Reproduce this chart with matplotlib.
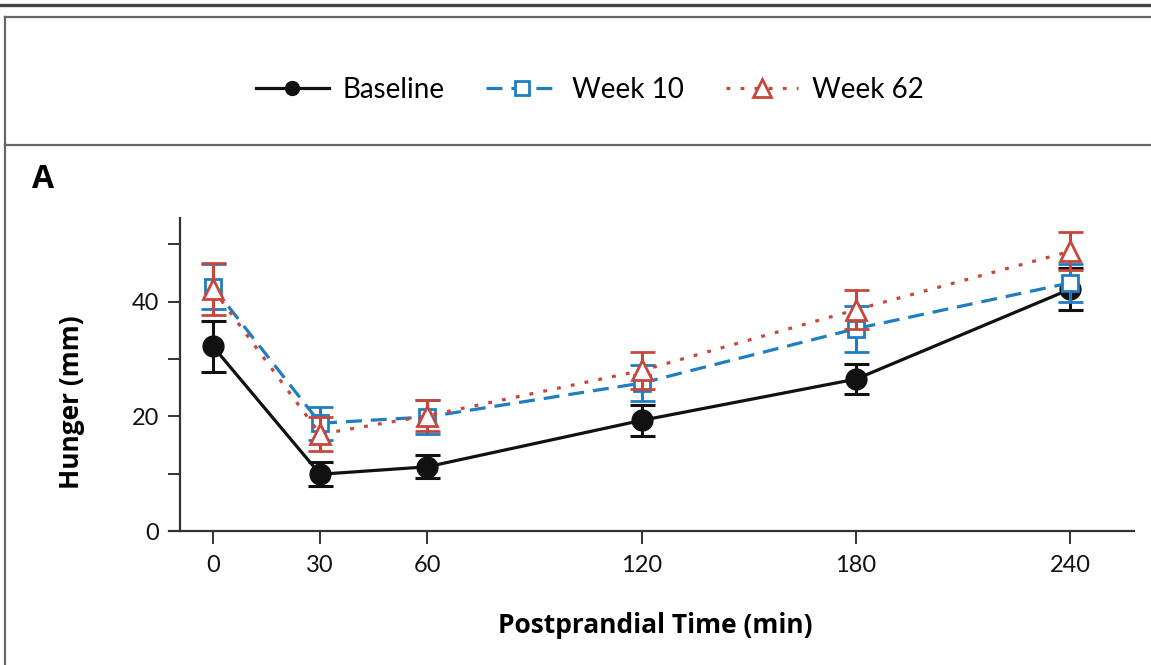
import matplotlib
matplotlib.use("Agg")
import matplotlib.pyplot as plt
from matplotlib.lines import Line2D

plt.rcParams['font.family'] = ['Lato', 'DejaVu Sans']

times = [0, 30, 60, 120, 180, 240]
baseline = [32.2, 9.9, 11.2, 19.3, 26.5, 42.2]
baseline_err = [4.5, 2.1, 2.0, 2.7, 2.6, 3.6]
week10 = [42.6, 18.8, 19.9, 25.8, 35.3, 43.3]
week10_err = [3.9, 2.9, 3.0, 3.1, 4.0, 3.3]
week62 = [42.2, 16.9, 20.1, 28.0, 38.6, 48.8]
week62_err = [4.5, 2.9, 2.7, 3.2, 3.4, 3.3]
series_names = ["Baseline", "Week 10", "Week 62"]
xticks = [0, 30, 60, 120, 180, 240]
yticks_major = [0, 20, 40]
yticks_minor = [10, 30, 50]

BLUE = "#1f7dc1"
RED = "#c8473d"
BLACK = "#111111"
SP = "#333333"
LS10 = (0, (5, 2.8))
LS62 = (0, (1.2, 3.2))

fig = plt.figure(figsize=(11.51, 6.65), dpi=100)
ax = fig.add_axes([169/1151, 1-531/665, (1134-169)/1151, (531-218)/665])

lw = 2.3
ax.errorbar(times, baseline, yerr=baseline_err, color=BLACK, lw=lw, ls='-',
            marker='o', ms=15, mfc=BLACK, mec=BLACK, capsize=9, capthick=2.2,
            elinewidth=2.2, zorder=3)
ax.errorbar(times, week10, yerr=week10_err, color=BLUE, lw=lw, ls=LS10,
            marker='s', ms=11, mfc='white', mec=BLUE, mew=2, capsize=9, capthick=2.2,
            elinewidth=2.2, zorder=4)
ax.errorbar(times, week62, yerr=week62_err, color=RED, lw=lw, ls=LS62,
            marker='^', ms=15, mfc='white', mec=RED, mew=2, capsize=9, capthick=2.2,
            elinewidth=2.2, zorder=5)

ax.set_xlim(-12.3, 257.8)
ax.set_ylim(0, 54.6)
for s in ['top', 'right']:
    ax.spines[s].set_visible(False)
ax.spines['left'].set_position(('data', -9.2))
for s in ['left', 'bottom']:
    ax.spines[s].set_linewidth(1.6)
    ax.spines[s].set_color(SP)

ax.set_xticks(xticks)
ax.set_yticks(yticks_major)
ax.set_yticks(yticks_minor, minor=True)
ax.tick_params(axis='both', which='both', direction='out', length=9, width=1.4,
               color=SP, labelsize=17, labelcolor='#111111')
ax.tick_params(axis='x', pad=8)
ax.tick_params(axis='y', pad=6)

lab_font = dict(fontsize=19, fontweight='bold', family=['Open Sans', 'DejaVu Sans'])
ax.set_xlabel("Postprandial Time (min)", **lab_font)
ax.set_ylabel("Hunger (mm)", **lab_font)
ax.xaxis.set_label_coords(0.504, -0.26)
ax.yaxis.set_label_coords(-0.087, 0.41)

fig.text(43/1151, 1-180/665, "A", fontsize=23, fontweight='bold',
         family=['Open Sans', 'DejaVu Sans'], ha='center', va='center')

handles = [
    Line2D([], [], color=BLACK, lw=lw, ls='-', marker='o', ms=10, mfc=BLACK, mec=BLACK),
    Line2D([], [], color=BLUE, lw=lw, ls=LS10, marker='s', ms=10, mfc='white', mec=BLUE, mew=2),
    Line2D([], [], color=RED, lw=lw, ls=LS62, marker='^', ms=13, mfc='white', mec=RED, mew=2),
]
fig.legend(handles, series_names, loc='center', bbox_to_anchor=(590/1151, 1-90/665),
           ncol=3, frameon=False, fontsize=20, handlelength=2.6, columnspacing=1.5,
           handletextpad=0.5)

# frame lines
fig.add_artist(Line2D([0, 1], [1-5/665, 1-5/665], color='#444444', lw=2.4,
                      transform=fig.transFigure))
fig.add_artist(Line2D([5/1151, 1], [1-17/665, 1-17/665], color='#666666', lw=1.6,
                      transform=fig.transFigure))
fig.add_artist(Line2D([5/1151, 1], [1-145/665, 1-145/665], color='#666666', lw=1.6,
                      transform=fig.transFigure))
fig.add_artist(Line2D([5/1151, 5/1151], [0, 1-17/665], color='#666666', lw=1.6,
                      transform=fig.transFigure))

fig.savefig("out.png", dpi=100)
